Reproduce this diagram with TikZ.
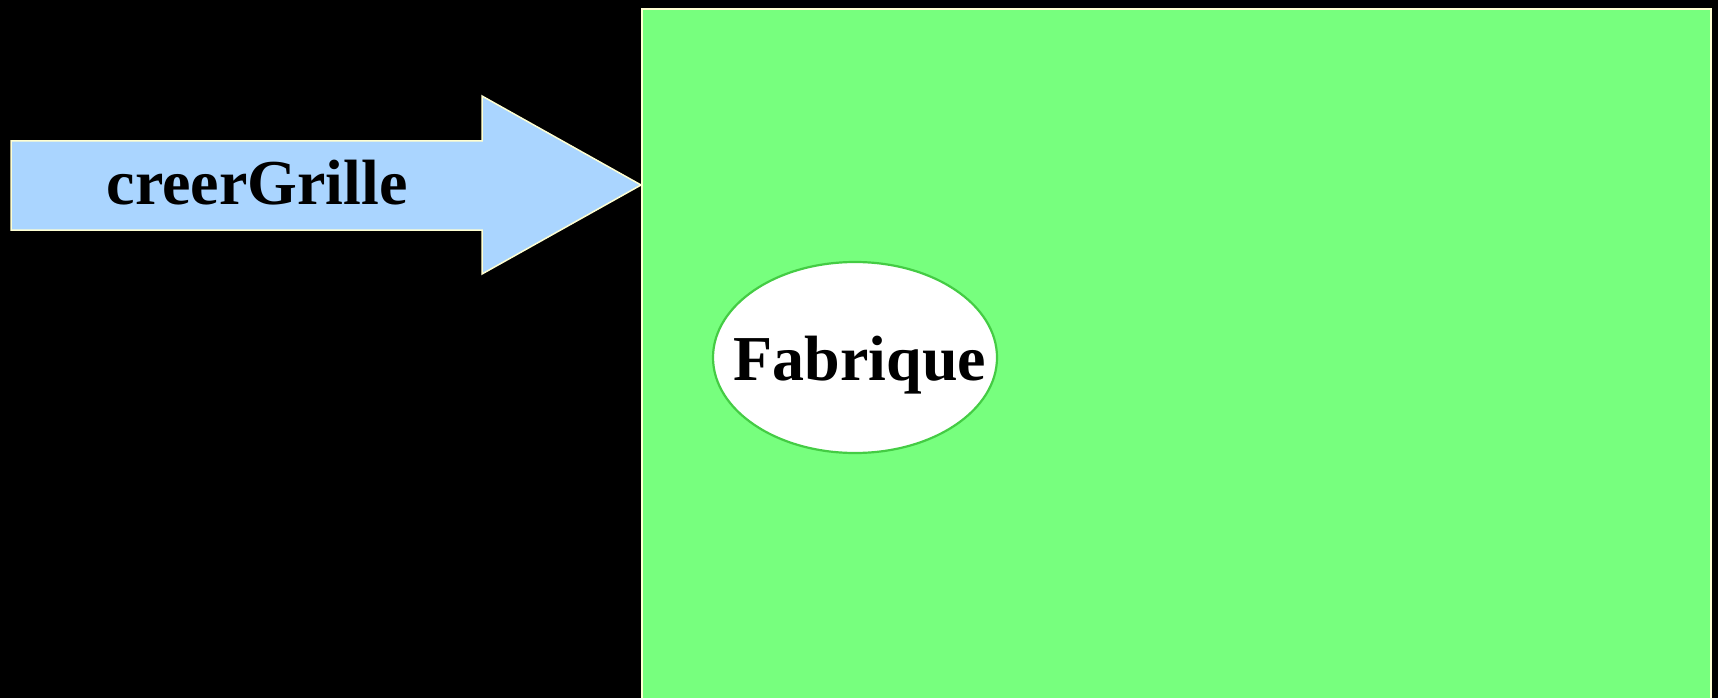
\documentclass[tikz,border=0pt]{standalone}
\usepackage{fontspec}
\setmainfont{Liberation Serif}
\usetikzlibrary{shapes.geometric}
\definecolor{bggreen}{HTML}{77FF7E}
\definecolor{arrowblue}{HTML}{AAD5FF}
\definecolor{cream}{HTML}{FFFFD2}
\definecolor{ellgreen}{HTML}{44CC44}
\tikzset{
  lbl/.style={inner sep=0pt, anchor=base, font=\bfseries\fontsize{64}{76}\selectfont, text=black},
}
\begin{document}
\begin{tikzpicture}[x=1pt,y=-1pt]
\fill[black] (0,0) rectangle (1718,698);
\useasboundingbox (0,0) rectangle (1718,698);
\clip (0,0) rectangle (1718,698);
% green frame
\draw[cream, line width=1.5pt, fill=bggreen] (642,9) rectangle (1711,705);
% arrow
\draw[cream, line width=1.5pt, fill=arrowblue, line join=miter]
  (11,141) -- (482,141) -- (482,96) -- (641,185) -- (482,274) -- (482,230) -- (11,230) -- cycle;
\node[lbl] (creer) at (257,204) {creerGrille};
% ellipse
\node[draw=ellgreen, line width=2.2pt, fill=white, ellipse, minimum width=284pt, minimum height=191pt, inner sep=0pt] (fab) at (855,357.5) {};
\node[lbl] (fabt) at (860,380) {Fabrique};
\end{tikzpicture}
\end{document}
